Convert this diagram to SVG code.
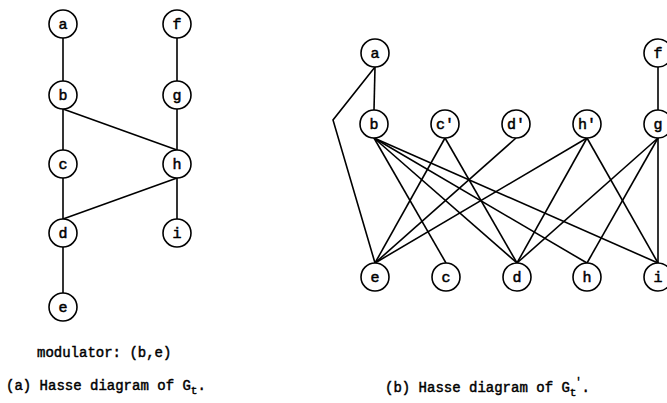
<svg xmlns="http://www.w3.org/2000/svg" width="667" height="403" viewBox="0 0 667 403">
<style>
.n circle{fill:#fff;stroke:#000;stroke-width:1.6}
.n text{font-family:"Liberation Mono",monospace;font-size:15px;text-anchor:middle;fill:#000;stroke:#000;stroke-width:0.5}
.e line,.e polyline{stroke:#000;stroke-width:1.6;fill:none}
.cap{font-family:"Liberation Mono",monospace;font-size:14px;fill:#000;stroke:#000;stroke-width:0.45}
</style>
<rect width="667" height="403" fill="#fff"/>
<g id="connectors" class="e">
<line x1="63" y1="38" x2="63" y2="81"/>
<line x1="63" y1="109" x2="63" y2="150"/>
<line x1="63" y1="178" x2="63" y2="219"/>
<line x1="63" y1="247" x2="63" y2="293"/>
<line x1="177" y1="38" x2="177" y2="81"/>
<line x1="177" y1="109" x2="177" y2="150"/>
<line x1="177" y1="178" x2="177" y2="219"/>
<line x1="63" y1="109" x2="177" y2="150"/>
<line x1="177" y1="178" x2="63" y2="219"/>
<line x1="375" y1="67" x2="374" y2="110"/>
<polyline points="375,67 333,120 375,263"/>
<line x1="658" y1="67" x2="658" y2="110"/>
<line x1="658" y1="138" x2="658" y2="263"/>
<line x1="374" y1="138" x2="446" y2="263"/>
<line x1="374" y1="138" x2="517" y2="263"/>
<line x1="374" y1="138" x2="587" y2="263"/>
<line x1="374" y1="138" x2="658" y2="263"/>
<line x1="445" y1="138" x2="375" y2="263"/>
<line x1="445" y1="138" x2="517" y2="263"/>
<line x1="516" y1="138" x2="375" y2="263"/>
<line x1="587" y1="138" x2="375" y2="263"/>
<line x1="587" y1="138" x2="517" y2="263"/>
<line x1="587" y1="138" x2="658" y2="263"/>
<line x1="658" y1="138" x2="517" y2="263"/>
<line x1="658" y1="138" x2="587" y2="263"/>
</g>
<g id="L_a" class="n"><circle cx="63" cy="24" r="14"/><text x="63" y="29">a</text></g>
<g id="L_b" class="n"><circle cx="63" cy="95" r="14"/><text x="63" y="100">b</text></g>
<g id="L_c" class="n"><circle cx="63" cy="164" r="14"/><text x="63" y="169">c</text></g>
<g id="L_d" class="n"><circle cx="63" cy="233" r="14"/><text x="63" y="238">d</text></g>
<g id="L_e" class="n"><circle cx="63" cy="307" r="14"/><text x="63" y="312">e</text></g>
<g id="L_f" class="n"><circle cx="177" cy="24" r="14"/><text x="177" y="29">f</text></g>
<g id="L_g" class="n"><circle cx="177" cy="95" r="14"/><text x="177" y="100">g</text></g>
<g id="L_h" class="n"><circle cx="177" cy="164" r="14"/><text x="177" y="169">h</text></g>
<g id="L_i" class="n"><circle cx="177" cy="233" r="14"/><text x="177" y="238">i</text></g>
<g id="R_a" class="n"><circle cx="375" cy="53" r="14"/><text x="375" y="58">a</text></g>
<g id="R_f" class="n"><circle cx="658" cy="53" r="14"/><text x="658" y="58">f</text></g>
<g id="R_b" class="n"><circle cx="374" cy="124" r="14"/><text x="374" y="129">b</text></g>
<g id="R_c1" class="n"><circle cx="445" cy="124" r="14"/><text x="445" y="129">c'</text></g>
<g id="R_d1" class="n"><circle cx="516" cy="124" r="14"/><text x="516" y="129">d'</text></g>
<g id="R_h1" class="n"><circle cx="587" cy="124" r="14"/><text x="587" y="129">h'</text></g>
<g id="R_g" class="n"><circle cx="658" cy="124" r="14"/><text x="658" y="129">g</text></g>
<g id="R_e" class="n"><circle cx="375" cy="277" r="14"/><text x="375" y="282">e</text></g>
<g id="R_c" class="n"><circle cx="446" cy="277" r="14"/><text x="446" y="282">c</text></g>
<g id="R_d" class="n"><circle cx="517" cy="277" r="14"/><text x="517" y="282">d</text></g>
<g id="R_h" class="n"><circle cx="587" cy="277" r="14"/><text x="587" y="282">h</text></g>
<g id="R_i" class="n"><circle cx="658" cy="277" r="14"/><text x="658" y="282">i</text></g>
<text class="cap" x="37" y="357">modulator: (b,e)</text>
<text class="cap" x="6" y="390">(a) Hasse diagram of G<tspan font-size="11" dy="4">t</tspan><tspan dy="-4">.</tspan></text>
<text class="cap" x="385" y="392">(b) Hasse diagram of G<tspan font-size="11" dy="4">t</tspan><tspan font-size="10" dx="-1" dy="-11">'</tspan><tspan dy="7">.</tspan></text>
</svg>
